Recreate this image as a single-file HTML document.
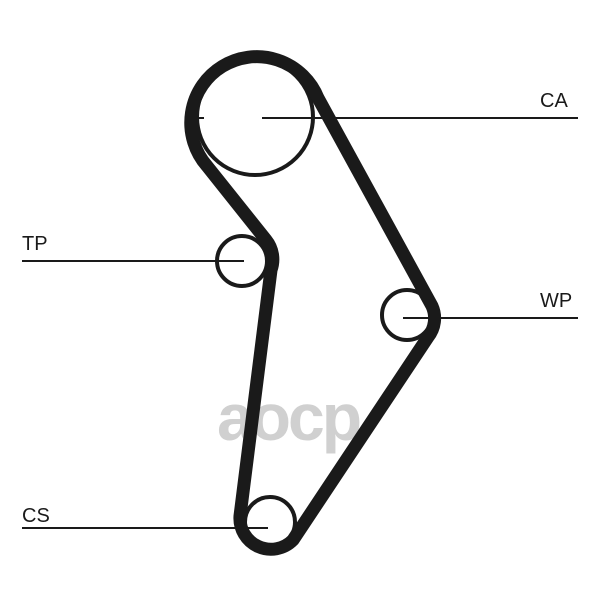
<!DOCTYPE html>
<html><head><style>body{margin:0;background:#fff}svg{display:block}</style></head><body>
<svg width="600" height="600" viewBox="0 0 600 600" xmlns="http://www.w3.org/2000/svg">
<rect width="600" height="600" fill="#fff"/>
<text x="288" y="440" font-family="Liberation Sans, sans-serif" font-size="66" font-weight="bold" fill="#d0d0d0" text-anchor="middle" letter-spacing="-3">aocp</text>
<g fill="none" stroke="#1a1a1a">
<circle cx="255" cy="117" r="58" stroke-width="4"/>
<circle cx="242" cy="261" r="25" stroke-width="4"/>
<circle cx="407" cy="315" r="25" stroke-width="4"/>
<circle cx="270" cy="522" r="25" stroke-width="4"/>
<path d="M 207,166 A 66 66 0 1 1 318,98 L 432,306 A 30 30 0 0 1 428,337 L 293,540 A 31 31 0 0 1 240,516 L 271,270 A 31 31 0 0 0 266,240 Z" stroke-width="13" stroke-linejoin="round"/>
<g stroke-width="2">
<line x1="262" y1="118" x2="578" y2="118"/>
<line x1="196" y1="118" x2="204" y2="118"/>
<line x1="22" y1="261" x2="244" y2="261"/>
<line x1="403" y1="318" x2="578" y2="318"/>
<line x1="22" y1="528" x2="268" y2="528"/>
</g>
</g>
<g font-family="Liberation Sans, sans-serif" font-size="20" fill="#1a1a1a">
<text x="540" y="107">CA</text>
<text x="22" y="250">TP</text>
<text x="540" y="307">WP</text>
<text x="22" y="522">CS</text>
</g>
</svg>
</body></html>
